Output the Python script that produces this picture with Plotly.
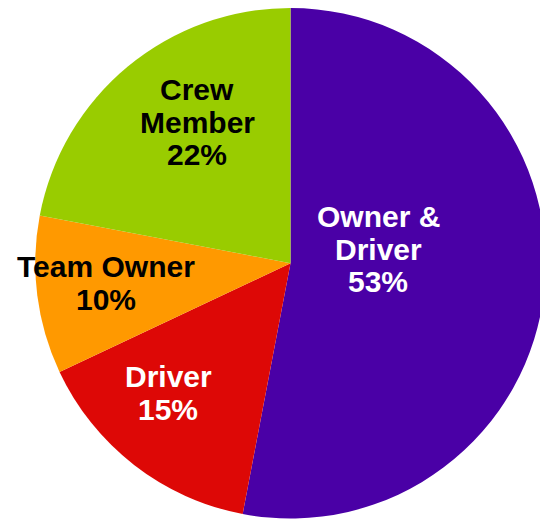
import plotly.graph_objects as go

categories = ["Owner & Driver", "Driver", "Team Owner", "Crew Member"]
shares = [53, 15, 10, 22]
label_lines = [["Owner &", "Driver"], ["Driver"], ["Team Owner"], ["Crew", "Member"]]

colors = ["#4A00A6", "#DD0806", "#FF9900", "#99CC00"]
text_colors = ["white", "white", "black", "black"]

OFF = 8  # page body margin
W, H = 548 - OFF, 519 - OFF  # figure fits inside the window after the body margin
# label layout: centre x and first baseline y (window pixels), line step
label_x = [378, 168, 106, 197]
label_y0 = [227, 387, 277, 100]
LINE_STEP = 32.7
FONT_SIZE = 30

fig = go.Figure(go.Pie(
    labels=categories,
    values=shares,
    sort=False,
    direction="clockwise",
    rotation=0,
    marker=dict(colors=colors, line=dict(width=0)),
    textinfo="none",
    hoverinfo="label+percent",
    showlegend=False,
    domain=dict(x=[(35 - OFF) / W, (546 - OFF) / W],
                y=[(H - (518.5 - OFF)) / H, 1.0]),
))

total = sum(shares)
for lines, val, tc, lx, ly in zip(label_lines, shares, text_colors, label_x, label_y0):
    all_lines = lines + [f"{round(val / total * 100)}%"]
    for i, t in enumerate(all_lines):
        base = ly + i * LINE_STEP - OFF
        cy = base - 0.35 * FONT_SIZE
        fig.add_annotation(
            x=(lx - OFF) / W, y=1 - cy / H, xref="paper", yref="paper",
            text=t, showarrow=False, xanchor="center", yanchor="middle",
            font=dict(family="Liberation Sans, Arial, sans-serif", size=FONT_SIZE,
                      color=tc, weight="bold"),
        )

fig.update_layout(
    width=W, height=H,
    margin=dict(l=0, r=0, t=0, b=0),
    paper_bgcolor="white",
    plot_bgcolor="white",
)

fig.write_html("out.html")
